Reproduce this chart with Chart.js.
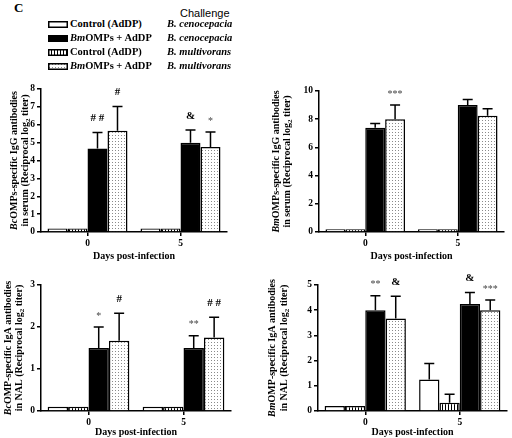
<!DOCTYPE html>
<html>
<head>
<meta charset="utf-8">
<script src="https://cdn.jsdelivr.net/npm/chart.js@4.4.0/dist/chart.umd.min.js"></script>
<style>
  html, body { margin: 0; padding: 0; background: #fff; }
  body { width: 512px; height: 438px; position: relative; overflow: hidden;
         font-family: "Liberation Serif", "Times New Roman", serif; }
  canvas.panel, canvas.swatch { position: absolute; }
  .lbl { position: absolute; white-space: nowrap; font-weight: bold; font-size: 10.5px;
         line-height: 12px; color: #000; }
</style>
</head>
<body>
<div class="lbl" style="left:14px; top:0px; font-size:13px; line-height:15px;">C</div>
<div class="lbl" style="left:180px; top:7px; font-family:'Liberation Sans',Arial,sans-serif; font-weight:normal; font-size:11px;">Challenge</div>
<canvas class="panel" id="p1" width="256" height="182" style="left:0px; top:80px"></canvas>
<canvas class="panel" id="p2" width="256" height="182" style="left:256px; top:80px"></canvas>
<canvas class="panel" id="p3" width="256" height="166" style="left:0px; top:272px"></canvas>
<canvas class="panel" id="p4" width="256" height="166" style="left:256px; top:272px"></canvas>
<script>
// Jours après infection
const days = ['0', '5'];

// Légende : traitement et souche de challenge
const legendTreatments = ['Control (AdDP)', 'BmOMPs + AdDP', 'Control (AdDP)', 'BmOMPs + AdDP'];
const legendChallenges = ['B. cenocepacia', 'B. cenocepacia', 'B. multivorans', 'B. multivorans'];

// BcOMPs - IgG sérum
const bcIgGCtrlCeno = [0.2, 0.2];
const bcIgGCtrlMulti = [0.2, 0.2];
const bcIgGOmpCeno = [4.67, 5.0];
const bcIgGOmpMulti = [5.67, 4.75];
const bcIgGOmpCenoSem = [0.9, 0.7];
const bcIgGOmpMultiSem = [1.35, 0.85];
const bcIgGOmpCenoMarks = ['# #', '&'];
const bcIgGOmpMultiMarks = ['#', '*'];

// BmOMPs - IgG sérum
const bmIgGCtrlCeno = [0.2, 0.2];
const bmIgGCtrlMulti = [0.2, 0.2];
const bmIgGOmpCeno = [7.4, 9.0];
const bmIgGOmpMulti = [8.0, 8.25];
const bmIgGOmpCenoSem = [0.3, 0.4];
const bmIgGOmpMultiSem = [1.0, 0.5];
const bmIgGOmpCenoMarks = ['', ''];
const bmIgGOmpMultiMarks = ['***', ''];

// BcOMP - IgA NAL
const bcIgACtrlCeno = [0.1, 0.1];
const bcIgACtrlMulti = [0.1, 0.1];
const bcIgAOmpCeno = [1.5, 1.5];
const bcIgAOmpMulti = [1.67, 1.75];
const bcIgAOmpCenoSem = [0.5, 0.29];
const bcIgAOmpMultiSem = [0.66, 0.48];
const bcIgAOmpCenoMarks = ['*', '**'];
const bcIgAOmpMultiMarks = ['#', '# #'];

// BmOMP - IgA NAL
const bmIgACtrlCeno = [0.2, 1.25];
const bmIgACtrlMulti = [0.2, 0.33];
const bmIgAOmpCeno = [4.0, 4.25];
const bmIgAOmpMulti = [3.67, 4.0];
const bmIgACtrlCenoSem = [0, 0.63];
const bmIgACtrlMultiSem = [0, 0.33];
const bmIgAOmpCenoSem = [0.57, 0.45];
const bmIgAOmpMultiSem = [0.88, 0.4];
const bmIgAOmpCenoMarks = ['**', '&'];
const bmIgAOmpMultiMarks = ['&', '***'];

const SERIF = "'Liberation Serif', 'Times New Roman', serif";

/**
 * Motifs de remplissage (hachures verticales, pointillé)
 */
function makePattern(kind) {
    const c = document.createElement('canvas');
    c.width = 3; c.height = 3;
    const g = c.getContext('2d');
    g.fillStyle = '#fff';
    g.fillRect(0, 0, 3, 3);
    if (kind === 'stripes') {
        g.fillStyle = '#000';
        g.fillRect(0, 0, 1, 3);
    } else {
        g.fillStyle = '#8a8a8a';
        g.fillRect(1, 1, 1, 1);
    }
    return g.createPattern(c, 'repeat');
}

const fills = {
    ctrlCeno: '#fff',
    ompCeno: '#000',
    ctrlMulti: makePattern('stripes'),
    ompMulti: makePattern('dots')
};

// Barres d'erreur, signes de significativité et titre Y en texte riche
const extrasPlugin = {
    id: 'extras',
    afterDatasetsDraw(chart, args, opts) {
        const ctx = chart.ctx;
        const yScale = chart.scales.y;
        ctx.save();
        ctx.strokeStyle = '#000';
        ctx.fillStyle = '#000';
        ctx.lineWidth = 1.5;
        chart.data.datasets.forEach((ds, i) => {
            const meta = chart.getDatasetMeta(i);
            meta.data.forEach((bar, j) => {
                const err = ds.sem ? ds.sem[j] : 0;
                let top = bar.y;
                if (err > 0) {
                    top = yScale.getPixelForValue(ds.data[j] + err);
                    ctx.beginPath();
                    ctx.moveTo(bar.x, bar.y);
                    ctx.lineTo(bar.x, top);
                    ctx.moveTo(bar.x - 5, top);
                    ctx.lineTo(bar.x + 5, top);
                    ctx.stroke();
                }
                const mark = ds.marks ? ds.marks[j] : '';
                if (mark) {
                    const star = mark.indexOf('*') >= 0;
                    ctx.font = (star ? '' : 'bold ') + (star ? '10px ' : '11px ') + SERIF;
                    ctx.textAlign = 'center';
                    ctx.textBaseline = 'middle';
                    ctx.fillStyle = star ? '#444' : '#000';
                    ctx.fillText(mark, bar.x, top - (star ? 11 : 14));
                    ctx.fillStyle = '#000';
                }
            });
        });

        // Titre de l'axe Y (deux lignes, pivotées)
        const area = chart.chartArea;
        const cy = (area.top + area.bottom) / 2;
        opts.lines.forEach((segs, k) => {
            ctx.save();
            ctx.translate(opts.x[k], cy);
            ctx.rotate(-Math.PI / 2);
            ctx.textBaseline = 'middle';
            ctx.textAlign = 'left';
            const fontOf = s => (s.italic ? 'italic ' : '') + 'bold ' + (s.sub ? 7 : 10) + 'px ' + SERIF;
            let total = 0;
            segs.forEach(s => { ctx.font = fontOf(s); total += ctx.measureText(s.t).width; });
            let x = -total / 2;
            segs.forEach(s => {
                ctx.font = fontOf(s);
                ctx.fillText(s.t, x, s.sub ? 3 : 0);
                x += ctx.measureText(s.t).width;
            });
            ctx.restore();
        });
        ctx.restore();
    }
};

/**
 * Crée un panneau de barres groupées
 */
function createPanel(canvasId, cfg) {
    const ctx = document.getElementById(canvasId).getContext('2d');
    const tickFont = { family: SERIF, size: 9.5, weight: 'bold' };
    const mk = (data, fill, sem, marks) => ({
        data: data,
        backgroundColor: fill,
        borderColor: '#000',
        borderWidth: 1.5,
        categoryPercentage: 0.86,
        barPercentage: 1.0,
        sem: sem,
        marks: marks
    });

    return new Chart(ctx, {
        type: 'bar',
        data: {
            labels: days,
            datasets: [
                mk(cfg.ctrlCeno, fills.ctrlCeno, cfg.ctrlCenoSem),
                mk(cfg.ctrlMulti, fills.ctrlMulti, cfg.ctrlMultiSem),
                mk(cfg.ompCeno, fills.ompCeno, cfg.ompCenoSem, cfg.ompCenoMarks),
                mk(cfg.ompMulti, fills.ompMulti, cfg.ompMultiSem, cfg.ompMultiMarks)
            ]
        },
        options: {
            responsive: false,
            animation: false,
            layout: { padding: cfg.padding },
            plugins: {
                legend: { display: false },
                tooltip: { enabled: false },
                extras: { lines: cfg.title, x: cfg.titleX }
            },
            scales: {
                x: {
                    offset: true,
                    grid: { offset: false, drawOnChartArea: false, drawTicks: true,
                            tickLength: 4, color: '#000', lineWidth: 1.5 },
                    border: { color: '#000', width: 1.5 },
                    ticks: { color: '#000', font: tickFont, padding: 2, maxRotation: 0 },
                    title: { display: true, text: 'Days post-infection', color: '#000',
                             font: { family: SERIF, size: 10, weight: 'bold' },
                             padding: { top: 0, bottom: 0 } },
                    afterFit: s => { s.height = cfg.xHeight; }
                },
                y: {
                    min: 0,
                    max: cfg.yMax,
                    grid: { drawOnChartArea: false, drawTicks: true, tickLength: 4,
                            color: '#000', lineWidth: 1.5 },
                    border: { color: '#000', width: 1.5 },
                    ticks: { stepSize: cfg.yStep, color: '#000', font: tickFont, padding: 2 },
                    afterFit: s => { s.width = cfg.yWidth; }
                }
            }
        },
        plugins: [extrasPlugin]
    });
}

const sub2 = { t: '2', sub: true };

createPanel('p1', {
    ctrlCeno: bcIgGCtrlCeno, ctrlMulti: bcIgGCtrlMulti,
    ompCeno: bcIgGOmpCeno, ompMulti: bcIgGOmpMulti,
    ompCenoSem: bcIgGOmpCenoSem, ompMultiSem: bcIgGOmpMultiSem,
    ompCenoMarks: bcIgGOmpCenoMarks, ompMultiMarks: bcIgGOmpMultiMarks,
    yMax: 8, yStep: 1, yWidth: 41, xHeight: 30,
    padding: { top: 9, right: 29, left: 0, bottom: 0 },
    titleX: [14, 25],
    title: [
        [{ t: 'Bc', italic: true }, { t: 'OMPs-specific IgG antibodies' }],
        [{ t: 'in serum (Reciprocal log' }, sub2, { t: ' titer)' }]
    ]
});

createPanel('p2', {
    ctrlCeno: bmIgGCtrlCeno, ctrlMulti: bmIgGCtrlMulti,
    ompCeno: bmIgGOmpCeno, ompMulti: bmIgGOmpMulti,
    ompCenoSem: bmIgGOmpCenoSem, ompMultiSem: bmIgGOmpMultiSem,
    ompCenoMarks: bmIgGOmpCenoMarks, ompMultiMarks: bmIgGOmpMultiMarks,
    yMax: 10, yStep: 2, yWidth: 63, xHeight: 30,
    padding: { top: 11, right: 8, left: 0, bottom: 0 },
    titleX: [20, 31],
    title: [
        [{ t: 'Bm', italic: true }, { t: 'OMPs-specific IgG antibodies' }],
        [{ t: 'in serum (Reciprocal log' }, sub2, { t: ' titer)' }]
    ]
});

createPanel('p3', {
    ctrlCeno: bcIgACtrlCeno, ctrlMulti: bcIgACtrlMulti,
    ompCeno: bcIgAOmpCeno, ompMulti: bcIgAOmpMulti,
    ompCenoSem: bcIgAOmpCenoSem, ompMultiSem: bcIgAOmpMultiSem,
    ompCenoMarks: bcIgAOmpCenoMarks, ompMultiMarks: bcIgAOmpMultiMarks,
    yMax: 3, yStep: 1, yWidth: 41, xHeight: 27,
    padding: { top: 13, right: 25, left: 0, bottom: 0 },
    titleX: [8, 19],
    title: [
        [{ t: 'Bc', italic: true }, { t: 'OMP-specific IgA antibodies' }],
        [{ t: 'in NAL (Reciprocal log' }, sub2, { t: ' titer)' }]
    ]
});

createPanel('p4', {
    ctrlCeno: bmIgACtrlCeno, ctrlMulti: bmIgACtrlMulti,
    ompCeno: bmIgAOmpCeno, ompMulti: bmIgAOmpMulti,
    ctrlCenoSem: bmIgACtrlCenoSem, ctrlMultiSem: bmIgACtrlMultiSem,
    ompCenoSem: bmIgAOmpCenoSem, ompMultiSem: bmIgAOmpMultiSem,
    ompCenoMarks: bmIgAOmpCenoMarks, ompMultiMarks: bmIgAOmpMultiMarks,
    yMax: 5, yStep: 1, yWidth: 62, xHeight: 27,
    padding: { top: 13, right: 5, left: 0, bottom: 0 },
    titleX: [16, 28],
    title: [
        [{ t: 'Bm', italic: true }, { t: 'OMP-specific IgA antibodies' }],
        [{ t: 'in NAL (Reciprocal log' }, sub2, { t: ' titer)' }]
    ]
});

// Légende (HTML + petits canevas pour les motifs)
const legendFills = [fills.ctrlCeno, fills.ompCeno, fills.ctrlMulti, fills.ompMulti];
const legendRowY = [24, 38, 52, 66];
legendTreatments.forEach((name, i) => {
    const sw = document.createElement('canvas');
    sw.className = 'swatch';
    sw.width = 20; sw.height = 7;
    sw.style.left = '48px';
    sw.style.top = (legendRowY[i] - 3) + 'px';
    const g = sw.getContext('2d');
    g.fillStyle = legendFills[i];
    g.fillRect(0, 0, 20, 7);
    g.strokeStyle = '#000';
    g.lineWidth = 1.5;
    g.strokeRect(0.75, 0.75, 18.5, 5.5);
    document.body.appendChild(sw);

    const t = document.createElement('div');
    t.className = 'lbl';
    t.style.left = '70px';
    t.style.top = (legendRowY[i] - 6) + 'px';
    const m = name.match(/^(Bm|Bc)(.*)$/);
    if (m) {
        const it = document.createElement('i');
        it.textContent = m[1];
        t.appendChild(it);
        t.appendChild(document.createTextNode(m[2]));
    } else {
        t.textContent = name;
    }
    document.body.appendChild(t);

    const c = document.createElement('div');
    c.className = 'lbl';
    c.style.left = '167px';
    c.style.top = (legendRowY[i] - 6) + 'px';
    c.style.fontStyle = 'italic';
    c.textContent = legendChallenges[i];
    document.body.appendChild(c);
});
</script>
</body>
</html>
